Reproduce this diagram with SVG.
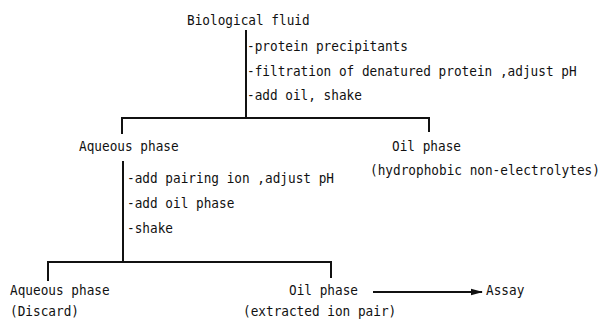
<svg xmlns="http://www.w3.org/2000/svg" width="602" height="322" viewBox="0 0 602 322">
<style>
text{font-family:"DejaVu Sans Mono","Liberation Mono",monospace;font-size:14px;fill:#111;}
.ln{stroke:#111;stroke-width:2;fill:none;stroke-linecap:square;}
</style>
<defs>
<marker id="ah" markerWidth="12" markerHeight="8" refX="11" refY="4" orient="auto" markerUnits="userSpaceOnUse">
<path d="M0,0.8 L12,4 L0,7.2 Z" fill="#111"/>
</marker>
</defs>
<rect width="602" height="322" fill="#fff"/>
<g id="connectors">
<path class="ln" d="M246,31 V118"/>
<path class="ln" d="M122,133 V118 H429 V131"/>
<path class="ln" d="M123,162 V262"/>
<path class="ln" d="M48,280 V262 H331 V277"/>
<path class="ln" d="M373,292 H482" marker-end="url(#ah)" style="stroke-linecap:butt"/>
</g>
<g id="labels" transform="scale(0.91,1)">
<g id="bio"><text x="205.5" y="25">Biological fluid</text></g>
<g id="step1">
<text x="271.4" y="51">-protein precipitants</text>
<text x="271.4" y="76">-filtration of denatured protein ,adjust pH</text>
<text x="271.4" y="100">-add oil, shake</text>
</g>
<g id="aq1"><text x="86.8" y="151">Aqueous phase</text></g>
<g id="oil1">
<text x="430.8" y="151">Oil phase</text>
<text x="406.6" y="175">(hydrophobic non-electrolytes)</text>
</g>
<g id="step2">
<text x="139.6" y="183">-add pairing ion ,adjust pH</text>
<text x="139.6" y="208">-add oil phase</text>
<text x="139.6" y="233">-shake</text>
</g>
<g id="aq2">
<text x="11" y="295">Aqueous phase</text>
<text x="11" y="316">(Discard)</text>
</g>
<g id="oil2">
<text x="317.6" y="295">Oil phase</text>
<text x="267" y="316">(extracted ion pair)</text>
</g>
<g id="assay"><text x="534.1" y="295">Assay</text></g>
</g>
</svg>
